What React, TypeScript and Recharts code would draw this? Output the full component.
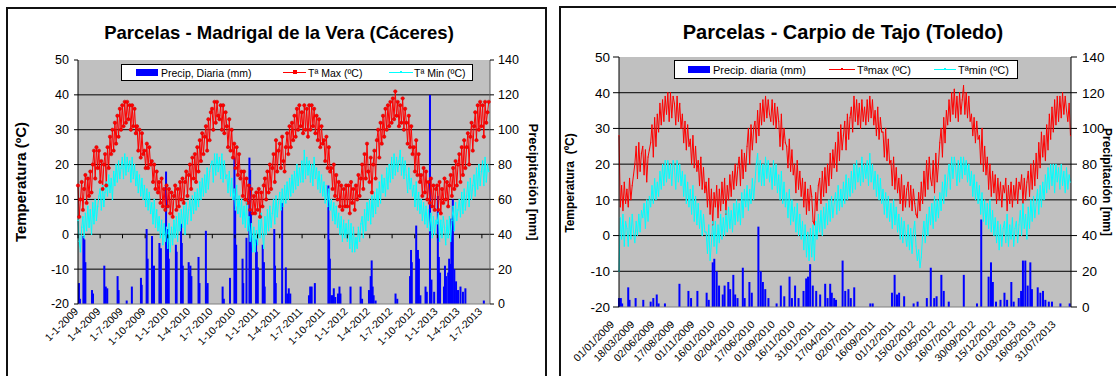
import React from "react";
import { Bar, CartesianGrid, ComposedChart, Line, XAxis, YAxis } from "recharts";

const FONT = '"Liberation Sans", Arial, Helvetica, sans-serif';
const STEP = 5; // days between temperature samples, counted from 1-1-2009

const tempTicks = [-20, -10, 0, 10, 20, 30, 40, 50];
const tempGrid = [-10, 0, 10, 20, 30, 40];
const rainTicks = [0, 20, 40, 60, 80, 100, 120, 140];

// ---- Madrigal de la Vera (Cáceres)
const madTitle = "Parcelas - Madrigal de la Vera (Cáceres)";
const madLegend = ["Precip, Diaria (mm)", "Tª Max (ºC)", "Tª Min (ºC)"];
const madTicks = [
  "1-1-2009", "1-4-2009", "1-7-2009", "1-10-2009", "1-1-2010", "1-4-2010", "1-7-2010",
  "1-10-2010", "1-1-2011", "1-4-2011", "1-7-2011", "1-10-2011", "1-1-2012", "1-4-2012",
  "1-7-2012", "1-10-2012", "1-1-2013", "1-4-2013", "1-7-2013",
];
const madTmax = [
  // 2009
  14, 5, 10, 15, 7, 13, 17, 9, 16, 11, 18, 12, 20, 24, 16, 25, 19, 24, 15, 21, 13, 20, 23, 14,
  25, 19, 28, 23, 30, 24, 32, 26, 34, 28, 36, 30, 37, 31, 38, 32, 38, 33, 37, 30, 37, 31, 36, 29,
  31, 24, 30, 22, 29, 23, 24, 19, 26, 19, 25, 20, 21, 15, 20, 13, 18, 12, 15, 9, 16, 8, 13, 7, 14,
  // 2010
  8, 13, 6, 12, 5, 11, 14, 7, 13, 8, 15, 10, 16, 9, 15, 18, 11, 17, 20, 13, 22, 16, 23, 15,
  25, 18, 27, 21, 29, 23, 28, 31, 24, 33, 27, 35, 36, 30, 38, 32, 38, 34, 33, 37, 30, 37, 29, 35,
  31, 25, 33, 24, 30, 22, 26, 19, 25, 17, 23, 16, 18, 11, 18, 10, 16, 9, 14, 7, 13, 6, 11, 6, 12,
  // 2011
  7, 13, 5, 12, 8, 14, 16, 10, 18, 12, 20, 13, 19, 23, 15, 27, 18, 24, 26, 19, 28, 21, 18, 25,
  29, 23, 31, 25, 32, 27, 34, 28, 36, 30, 37, 31, 35, 29, 37, 30, 36, 28, 37, 30, 37, 31, 36, 29,
  34, 27, 33, 25, 31, 26, 27, 21, 28, 19, 25, 18, 19, 13, 20, 11, 17, 10, 15, 8, 14, 7, 13, 8, 14,
  // 2012
  8, 14, 6, 15, 9, 13, 7, 14, 10, 17, 11, 16, 20, 13, 23, 16, 26, 18, 15, 22, 12, 20, 24, 16,
  27, 30, 22, 32, 26, 34, 28, 36, 30, 37, 31, 38, 32, 39, 33, 41, 34, 38, 31, 37, 32, 39, 30, 36,
  32, 26, 34, 25, 31, 23, 25, 18, 27, 17, 23, 15, 17, 11, 19, 12, 18, 10, 15, 9, 16, 8, 14, 7, 13,
  // 2013
  14, 7, 15, 6, 13, 9, 16, 10, 15, 8, 14, 17, 11, 19, 13, 21, 14, 20, 23, 15, 25, 17, 27, 19,
  25, 29, 20, 28, 32, 24, 31, 35, 27, 37, 30, 38, 31, 37, 28, 38, 32, 35, 38,
];
const madTmin = [
  // 2009
  4, -2, -5, 2, 5, -1, 6, 1, 8, 2, 7, 0, 9, 3, 10, 4, 8, 11, 13, 7, 14, 8, 12, 15,
  11, 17, 12, 16, 10, 18, 14, 20, 15, 21, 16, 19, 22, 16, 23, 17, 22, 18, 21, 15, 22, 16, 20, 14,
  18, 12, 17, 11, 16, 10, 14, 8, 13, 7, 12, 6, 9, 3, 10, 2, 7, 1, 5, -1, 4, -3, 3, -2, 2,
  // 2010
  -4, 3, -5, 2, -3, 4, -1, 5, -2, 6, 1, 7, 2, 8, 0, 9, 3, 7, 10, 4, 11, 6, 12, 7,
  13, 8, 15, 10, 16, 11, 17, 12, 19, 13, 18, 20, 21, 15, 23, 17, 23, 18, 22, 16, 23, 15, 21, 16,
  17, 12, 18, 11, 16, 10, 13, 7, 14, 6, 11, 5, 10, 3, 8, 2, 9, 1, 5, -2, 3, -5, 2, -5, 1,
  // 2011
  -3, 4, -1, 6, 0, -4, 5, 0, 7, 1, 8, 2, 6, 10, 3, 11, 5, 9, 12, 7, 13, 8, 14, 9,
  15, 10, 16, 11, 17, 12, 18, 13, 20, 14, 19, 15, 21, 15, 24, 16, 22, 17, 21, 15, 20, 14, 22, 16,
  19, 13, 18, 12, 17, 11, 15, 9, 14, 8, 13, 7, 10, 4, 9, 3, 8, 2, 6, 0, 5, -2, 4, -1, 3,
  // 2012
  -2, 4, -4, 3, -5, 2, -5, -1, -4, 2, -2, 3, 5, -1, 7, 1, 9, 4, 10, 3, 11, 5, 12, 6,
  13, 8, 15, 9, 17, 12, 16, 11, 19, 13, 20, 15, 22, 16, 23, 17, 22, 18, 21, 24, 17, 22, 16, 21,
  17, 12, 19, 13, 16, 11, 14, 8, 15, 7, 12, 6, 10, 4, 9, 3, 8, 2, 7, 1, 6, -1, 5, 0, 4,
  // 2013
  3, 6, -2, 4, -1, 5, 2, -3, 4, -1, 5, -2, 4, 8, 1, 9, 4, 7, 10, 5, 12, 6, 13, 7,
  11, 15, 8, 16, 10, 14, 17, 11, 19, 13, 20, 14, 18, 21, 14, 22, 15, 20, 18,
];
const madRain = [
  [4, 12], [8, 3], [22, 39], [26, 37], [30, 24], [57, 8], [61, 6], [107, 22], [113, 10], [119, 9], [161, 16], [165, 8],
  [198, 2], [219, 10], [256, 15], [259, 11], [279, 43], [283, 26], [301, 39], [305, 9], [309, 22], [331, 35], [334, 10],
  [337, 32], [358, 76], [362, 35], [366, 43], [369, 26], [398, 34], [401, 30], [419, 46], [422, 35], [426, 22], [450, 24],
  [454, 18], [457, 22], [461, 16], [490, 27], [494, 12], [520, 42], [523, 10], [527, 12], [588, 10], [593, 3], [618, 15],
  [636, 84], [639, 56], [643, 34], [669, 26], [672, 12], [685, 38], [697, 84], [700, 77], [703, 53], [724, 37], [727, 30],
  [731, 21], [751, 34], [756, 24], [759, 10], [798, 43], [801, 22], [804, 12], [830, 58], [845, 21], [851, 6], [857, 9],
  [863, 6], [939, 5], [944, 10], [950, 10], [963, 12], [1018, 68], [1021, 37], [1024, 26], [1031, 5], [1035, 5], [1040, 9],
  [1046, 4], [1057, 6], [1063, 10], [1067, 6], [1108, 10], [1149, 10], [1155, 3], [1183, 8], [1190, 16], [1194, 25],
  [1198, 10], [1202, 5], [1210, 2], [1291, 6], [1298, 3], [1350, 16], [1354, 31], [1357, 24], [1375, 45], [1378, 28],
  [1382, 31], [1386, 26], [1392, 5], [1413, 10], [1418, 7], [1431, 120], [1437, 14], [1448, 7], [1463, 62], [1467, 27],
  [1472, 18], [1488, 10], [1492, 22], [1496, 16], [1505, 18], [1509, 26], [1514, 23], [1518, 49], [1524, 60], [1530, 20],
  [1537, 13], [1545, 8], [1555, 10], [1565, 7], [1575, 9], [1650, 2],
];

// ---- Carpio de Tajo (Toledo)
const carTitle = "Parcelas - Carpio de Tajo (Toledo)";
const carLegend = ["Precip. diaria (mm)", "Tªmax (ºC)", "Tªmin (ºC)"];
const carTicks = [
  "01/01/2009", "18/03/2009", "02/06/2009", "17/08/2009", "01/11/2009", "16/01/2010", "02/04/2010",
  "17/06/2010", "01/09/2010", "16/11/2010", "31/01/2011", "17/04/2011", "02/07/2011", "16/09/2011",
  "01/12/2011", "15/02/2012", "01/05/2012", "16/07/2012", "30/09/2012", "15/12/2012", "01/03/2013",
  "16/05/2013", "31/07/2013",
];
const carTmax = [
  // 2009
  28, 8, 14, 7, 15, 9, 13, 8, 16, 10, 14, 17, 20, 25, 16, 26, 18, 23, 25, 17, 24, 15, 22, 24,
  26, 31, 22, 33, 25, 34, 29, 37, 31, 38, 32, 39, 34, 40, 32, 40, 33, 39, 37, 31, 39, 32, 37, 30,
  34, 26, 32, 24, 31, 25, 27, 20, 28, 19, 25, 18, 21, 14, 22, 13, 19, 12, 15, 8, 16, 6, 13, 3, 12,
  // 2010
  8, 14, 5, 13, 7, 15, 9, 16, 6, 14, 10, 17, 11, 18, 13, 20, 14, 19, 22, 14, 24, 16, 23, 18,
  25, 30, 20, 31, 24, 30, 32, 26, 35, 28, 37, 31, 38, 32, 39, 33, 38, 34, 32, 38, 31, 37, 30, 36,
  32, 25, 34, 24, 30, 26, 25, 19, 27, 18, 24, 17, 20, 12, 21, 13, 18, 11, 16, 8, 15, 6, 13, 7, 14,
  // 2011
  11, 4, 3, 12, 7, 14, 16, 9, 18, 11, 19, 12, 20, 14, 23, 16, 24, 19, 26, 18, 29, 21, 31, 24,
  28, 32, 24, 34, 27, 33, 36, 29, 39, 32, 38, 31, 37, 30, 38, 32, 36, 31, 38, 32, 39, 33, 38, 31,
  35, 28, 36, 27, 33, 29, 29, 22, 30, 21, 27, 20, 21, 14, 22, 13, 19, 12, 16, 9, 17, 7, 14, 8, 13,
  // 2012
  15, 8, 14, 7, 13, 9, 6, 5, 12, 7, 15, 9, 18, 11, 21, 13, 22, 16, 14, 21, 12, 23, 15, 20,
  26, 30, 22, 33, 26, 35, 31, 38, 32, 40, 34, 41, 33, 39, 32, 40, 34, 38, 42, 34, 40, 33, 39, 32,
  34, 28, 33, 26, 32, 27, 28, 20, 30, 18, 25, 17, 22, 13, 20, 11, 18, 12, 17, 9, 16, 10, 15, 8, 14,
  // 2013
  12, 16, 7, 14, 9, 15, 8, 14, 10, 16, 9, 15, 13, 17, 9, 16, 10, 15, 18, 11, 20, 13, 21, 14,
  23, 16, 26, 19, 29, 22, 28, 21, 31, 24, 34, 27, 36, 29, 38, 31, 39, 32, 39, 33, 40, 34, 39, 35,
  32, 37, 28,
];
const carTmin = [
  // 2009
  -10, 5, -1, 6, -3, 4, 2, -3, 5, -1, 6, 1, -2, 4, 0, 6, 1, 7, 5, 9, 2, 10, 4, 11,
  8, 14, 9, 16, 10, 15, 11, 18, 13, 20, 14, 21, 15, 21, 16, 20, 14, 21, 19, 13, 21, 15, 20, 14,
  18, 11, 17, 9, 15, 8, 13, 6, 14, 4, 11, 3, 9, 2, 7, 0, 6, 1, 1, -5, 3, -7, -2, 4, -3,
  // 2010
  4, -5, 3, -2, 6, -1, 5, 0, 7, 1, 8, 2, 7, 1, 9, 3, 10, 4, 9, 3, 12, 5, 13, 8,
  14, 7, 13, 9, 16, 10, 15, 20, 23, 15, 21, 14, 20, 14, 22, 16, 21, 15, 19, 13, 21, 14, 20, 12,
  17, 10, 18, 9, 15, 8, 12, 5, 13, 3, 10, 4, 8, 1, 9, 0, 6, -1, 4, -4, 3, -6, 1, -7, 2,
  // 2011
  -6, 3, -7, 4, -1, 6, 1, 7, 0, 8, 2, 9, 3, 10, 4, 11, 5, 9, 12, 6, 14, 7, 13, 8,
  15, 9, 17, 10, 16, 11, 18, 12, 20, 13, 21, 15, 19, 14, 22, 15, 20, 16, 21, 14, 23, 15, 20, 13,
  18, 11, 17, 10, 16, 9, 13, 6, 12, 5, 11, 4, 9, 2, 10, 3, 8, 1, 6, -1, 5, -2, 4, 0, -3,
  // 2012
  3, -4, 2, -5, 1, 4, -3, -7, -4, -9, -6, 0, 4, -2, 6, 0, 8, 3, 9, 2, 11, 4, 10, 5,
  12, 7, 15, 9, 17, 11, 16, 20, 13, 22, 16, 22, 19, 14, 21, 15, 22, 16, 22, 17, 21, 15, 20, 14,
  18, 11, 17, 10, 15, 9, 14, 6, 12, 4, 10, 3, 9, 2, 10, 1, 7, 0, 5, -2, 4, -4, 3, -3, 2,
  // 2013
  4, -2, 6, -3, 3, -1, 5, -3, 2, 4, -2, 3, 7, 0, 9, 2, 6, -1, 8, 2, 10, 4, 11, 5,
  9, 13, 6, 14, 8, 15, 10, 17, 12, 19, 13, 20, 14, 20, 12, 20, 15, 19, 13, 20, 14, 18, 12, 19,
  13, 17, 15,
];
const carRain = [
  [0, 5], [4, 4], [7, 5], [12, 2], [35, 11], [40, 4], [63, 5], [92, 4], [120, 3], [130, 5], [143, 7], [150, 2], [174, 2],
  [229, 13], [263, 9], [273, 5], [297, 9], [332, 8], [340, 4], [355, 25], [361, 27], [370, 20], [379, 12], [393, 7],
  [400, 12], [414, 14], [421, 10], [433, 18], [440, 7], [449, 5], [469, 22], [476, 5], [494, 14], [503, 8], [528, 45],
  [537, 20], [545, 14], [554, 10], [566, 5], [597, 2], [613, 12], [626, 6], [646, 17], [655, 5], [667, 12], [680, 5],
  [699, 9], [709, 16], [716, 17], [724, 24], [734, 12], [747, 9], [762, 7], [781, 13], [790, 5], [800, 13], [806, 8],
  [815, 5], [822, 4], [847, 26], [857, 9], [869, 10], [878, 5], [891, 11], [952, 2], [961, 2], [1034, 8], [1044, 18],
  [1053, 7], [1061, 8], [1080, 6], [1116, 2], [1131, 3], [1166, 5], [1181, 22], [1194, 5], [1203, 6], [1221, 18],
  [1230, 9], [1249, 3], [1306, 18], [1356, 2], [1372, 49], [1400, 17], [1409, 25], [1416, 14], [1428, 3], [1445, 4],
  [1460, 8], [1470, 4], [1486, 14], [1495, 3], [1514, 5], [1523, 9], [1530, 26], [1539, 26], [1548, 12], [1558, 25],
  [1564, 10], [1586, 11], [1596, 8], [1606, 9], [1615, 4], [1628, 3], [1640, 3], [1672, 2], [1707, 2],
];

function dayOf(label: string) {
  const [d, m, y] = label.split(/[-/]/).map(Number);
  return Math.round((Date.UTC(y, m - 1, d) - Date.UTC(2009, 0, 1)) / 86400000);
}

function buildRows(tmax: number[], tmin: number[], rain: number[][]) {
  const rows = new Map<number, any>();
  const row = (d: number) => {
    if (!rows.has(d)) rows.set(d, { d });
    return rows.get(d);
  };
  tmax.forEach((v, i) => (row(i * STEP).tmax = v));
  tmin.forEach((v, i) => (row(i * STEP).tmin = v));
  rain.forEach(([d, v]) => (row(d).p = v));
  return [...rows.values()].sort((a, b) => a.d - b.d);
}

const DateTick = (props: any) => {
  const { x, y, payload, names, dx, dy, size, zeroMark } = props;
  const ax = x + dx;
  const ay = y + dy;
  return (
    <g>
      {zeroMark ? <line x1={x} x2={x} y1={y - zeroMark} y2={y - zeroMark + 4} stroke="#000" /> : null}
      <text
        x={ax}
        y={ay}
        transform={`rotate(-45, ${ax}, ${ay})`}
        textAnchor="end"
        fontSize={size}
        fontFamily={FONT}
        fill="#000"
      >
        {names.get(payload.value)}
      </text>
    </g>
  );
};

// daily rain columns stay 2px wide whatever the band size is
const RainBar = (p: any) =>
  p.height > 0 ? <rect x={p.x + p.width / 2 - 1} y={p.y} width={2} height={p.height} fill="#0000FF" /> : null;

function LegendBox({ box, labels, swatch, text, font, big }: any) {
  return (
    <div
      style={{
        position: "absolute",
        left: box[0],
        top: box[1],
        width: box[2],
        height: box[3],
        background: "#fff",
        border: "1px solid #000",
        boxSizing: "border-box",
        fontFamily: FONT,
        fontSize: font,
      }}
    >
      <div style={{ position: "absolute", left: swatch[0], top: "50%", width: 22, height: 7, marginTop: -4, background: "#0000FF" }} />
      {[1, 2].map((k) => {
        const c = k === 1 ? "#FF0000" : "#00FFFF";
        const w = k === 1 ? swatch[3] : swatch[4];
        const m = k === 1 && big ? 4 : 2;
        return (
          <React.Fragment key={k}>
            <div style={{ position: "absolute", left: swatch[k], top: "50%", width: w, height: 1, marginTop: -1, background: c }} />
            <div style={{ position: "absolute", left: swatch[k] + w / 2 - m / 2, top: "50%", width: m, height: m, marginTop: -m / 2 - 0.5, background: c }} />
          </React.Fragment>
        );
      })}
      {labels.map((t: string, i: number) => (
        <div key={t} style={{ position: "absolute", left: text[i], top: 0, height: "100%", display: "flex", alignItems: "center", whiteSpace: "nowrap" }}>
          {t}
        </div>
      ))}
    </div>
  );
}

function Panel(props: any) {
  const { L, title, legend, ticks, tmax, tmin, rain } = props;
  const rows = buildRows(tmax, tmin, rain);
  const names = new Map<number, string>(ticks.map((t: string) => [dayOf(t), t]));
  const plotH = L.height - L.margin.top - L.xh;
  const zeroMark = L.zeroTicks ? (plotH * 20) / 70 : 0;
  const rot = (x: number, y: number, size: number, deg: number, text: string, key: string) => (
    <div
      key={key}
      style={{
        position: "absolute",
        left: x,
        top: y,
        transform: `translate(-50%, -50%) rotate(${deg}deg)`,
        fontFamily: FONT,
        fontWeight: "bold",
        fontSize: size,
        whiteSpace: "pre",
        lineHeight: 1,
      }}
    >
      {text}
    </div>
  );
  return (
    <>
      <div
        style={{
          position: "absolute",
          left: L.frame[0],
          top: L.frame[1],
          width: L.frame[2],
          height: 400,
          border: "2px solid #111",
          boxSizing: "border-box",
        }}
      />
      <div
        style={{
          position: "absolute",
          left: L.title[0],
          top: L.title[1],
          transform: "translateX(-50%)",
          fontFamily: FONT,
          fontWeight: "bold",
          fontSize: L.title[2],
          lineHeight: 1,
          whiteSpace: "nowrap",
        }}
      >
        {title}
      </div>
      {rot(L.yTitle[0], L.yTitle[1], L.yTitle[2], -90, L.yTitle[3], "yt")}
      {rot(L.pTitle[0], L.pTitle[1], L.pTitle[2], 90, "Precipitación [mm]", "pt")}
      <div style={{ position: "absolute", left: L.left, top: 0 }}>
        <ComposedChart width={L.width} height={L.height} data={rows} margin={L.margin}>
          <CartesianGrid
            horizontalValues={tempGrid}
            vertical={false}
            stroke="#000"
            fill="#C0C0C0"
            fillOpacity={1}
          />
          <XAxis
            dataKey="d"
            type="number"
            domain={[0, L.days]}
            ticks={ticks.map(dayOf)}
            interval={0}
            height={L.xh}
            tickSize={0}
            tickMargin={0}
            axisLine={{ stroke: "#808080" }}
            tickLine={false}
            tick={<DateTick names={names} dx={L.labelD[0]} dy={L.labelD[1]} size={L.xFont} zeroMark={zeroMark} />}
          />
          <YAxis
            type="number"
            domain={[-20, 50]}
            ticks={tempTicks}
            interval={0}
            width={L.yw[0]}
            tickSize={L.tickSize}
            tickMargin={L.tickMargin[0]}
            axisLine={{ stroke: "#000" }}
            tickLine={{ stroke: "#000" }}
            tick={{ fill: "#000", fontSize: L.yFont, fontFamily: FONT }}
          />
          <YAxis
            yAxisId="p"
            orientation="right"
            type="number"
            domain={[0, 140]}
            ticks={rainTicks}
            interval={0}
            width={L.yw[1]}
            tickSize={L.tickSize}
            tickMargin={L.tickMargin[1]}
            axisLine={{ stroke: L.rightAxis }}
            tickLine={{ stroke: "#000" }}
            tick={{ fill: "#000", fontSize: L.yFont, fontFamily: FONT }}
          />
          <Line
            dataKey="tmax"
            type="linear"
            stroke="#FF0000"
            strokeWidth={1}
            connectNulls
            dot={L.maxDot}
            activeDot={false}
            isAnimationActive={false}
          />
          <Line
            dataKey="tmin"
            type="linear"
            stroke="#00FFFF"
            strokeWidth={1}
            connectNulls
            dot={L.minDot}
            activeDot={false}
            isAnimationActive={false}
          />
          <Bar dataKey="p" yAxisId="p" fill="#0000FF" barSize={2} shape={RainBar} isAnimationActive={false} />
        </ComposedChart>
      </div>
      <LegendBox {...legend} />
    </>
  );
}

const madLayout = {
  frame: [6, 7, 541],
  title: [279, 24, 18.5],
  yTitle: [20, 182, 15, "Temperatura (ºC)"],
  pTitle: [533, 182, 13],
  left: 0,
  width: 548,
  height: 376,
  margin: { top: 60, right: 18, bottom: 0, left: 28 },
  yw: [50, 40],
  xh: 72,
  days: 1675,
  tickSize: 4,
  tickMargin: [5, 4],
  yFont: 12.5,
  xFont: 10.5,
  labelD: [1, 8],
  zeroTicks: true,
  rightAxis: "#606060",
  maxDot: { r: 1.7, fill: "#FF0000", stroke: "#D00000", strokeWidth: 0.5 },
  minDot: { r: 0.8, fill: "#00FFFF", stroke: "none" },
};

const carLayout = {
  frame: [559, 6, 600],
  title: [843, 22, 20],
  yTitle: [570, 183, 12, "Temperatura  (ºC)"],
  pTitle: [1107, 182, 12],
  left: 553,
  width: 563,
  height: 376,
  margin: { top: 57, right: 0, bottom: 0, left: 16 },
  yw: [50, 45],
  xh: 69,
  days: 1712,
  tickSize: 6,
  tickMargin: [3, 5],
  yFont: 13.5,
  xFont: 10.5,
  labelD: [-4, 18],
  zeroTicks: false,
  rightAxis: "#000",
  maxDot: { r: 0.6, fill: "#FF0000", stroke: "none" },
  minDot: { r: 0.5, fill: "#00FFFF", stroke: "none" },
};

const madLegendBox = {
  box: [121, 64, 352, 17],
  labels: madLegend,
  swatch: [14, 161, 267, 23, 24],
  text: [39, 186, 292],
  font: 10.5,
  big: true,
};

const carLegendBox = {
  box: [674, 60, 344, 19],
  labels: carLegend,
  swatch: [13, 154, 259, 26, 22],
  text: [38, 182, 283],
  font: 11,
  big: false,
};

export default function App() {
  return (
    <div style={{ position: "absolute", left: 0, top: 0, width: 1116, height: 376, overflow: "hidden", background: "#fff" }}>
      <Panel L={madLayout} title={madTitle} legend={madLegendBox} ticks={madTicks} tmax={madTmax} tmin={madTmin} rain={madRain} />
      <Panel L={carLayout} title={carTitle} legend={carLegendBox} ticks={carTicks} tmax={carTmax} tmin={carTmin} rain={carRain} />
    </div>
  );
}
